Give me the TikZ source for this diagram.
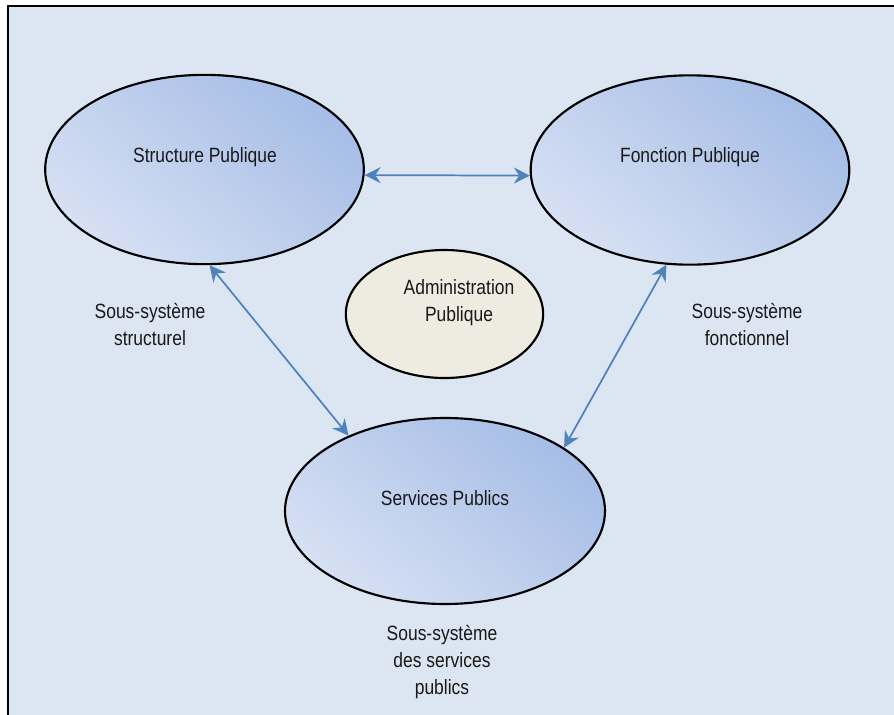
\documentclass[tikz,border=0pt]{standalone}
\usepackage{fontspec}
\setmainfont{Liberation Sans}[FakeStretch=0.845]
\usetikzlibrary{shapes.geometric,arrows.meta}
\definecolor{bgblue}{HTML}{DCE6F2}
\definecolor{elldark}{HTML}{A6BDE6}
\definecolor{elllight}{HTML}{D6E0F3}
\definecolor{admfill}{HTML}{EEEBE0}
\definecolor{arrowblue}{HTML}{4F81BD}
\begin{document}
\begin{tikzpicture}[x=0.75pt,y=-0.75pt,
  blueell/.style={ellipse, draw=black, line width=1.6pt, shading=axis,
    top color=elldark, bottom color=elllight, shading angle=-40, inner sep=0pt},
  admell/.style={ellipse, draw=black, line width=1.6pt, fill=admfill, inner sep=0pt},
  txt/.style={font=\fontsize{15.5}{20.25}\selectfont, align=center, inner sep=0pt, text=black!90},
  arr/.style={{Stealth[length=12pt,width=12pt,inset=4pt]}-{Stealth[length=12pt,width=12pt,inset=4pt]},
    draw=arrowblue, line width=1.3pt}]
\useasboundingbox (0,0) rectangle (894,715);
\fill[white] (0,0) rectangle (894,715);
\fill[bgblue] (8,6) rectangle (894,715);
\draw[line width=1.5pt, line join=miter] (8,716) -- (8,6) -- (895,6);

\node[blueell, minimum width=239pt, minimum height=142pt] (SP) at (204.5,169.5) {};
\node[blueell, minimum width=239pt, minimum height=142pt] (FP) at (690,170) {};
\node[blueell, minimum width=240pt, minimum height=139.5pt] (SA) at (445,511) {};
\node[admell, minimum width=148pt, minimum height=96pt] (AP) at (444.5,314) {};

\node[txt] (tSP) at (205,157) {Structure Publique};
\node[txt] (tFP) at (690,157) {Fonction Publique};
\node[txt] (tSA) at (445,498) {Services Publics};
\node[txt] (tAP) at (459,302.5) {Administration\\Publique};

\node[txt] (lS) at (150,324.5) {Sous-système\\structurel};
\node[txt] (lF) at (747,324.5) {Sous-système\\fonctionnel};
\node[txt] (lB) at (442,662.5) {Sous-système\\des services\\publics};

\draw[arr] (SP.-2) -- (FP.182);
\draw[arr] (SP.-87.4) -- (SA.142.9);
\draw[arr] (FP.256.4) -- (SA.28.8);
\end{tikzpicture}
\end{document}
